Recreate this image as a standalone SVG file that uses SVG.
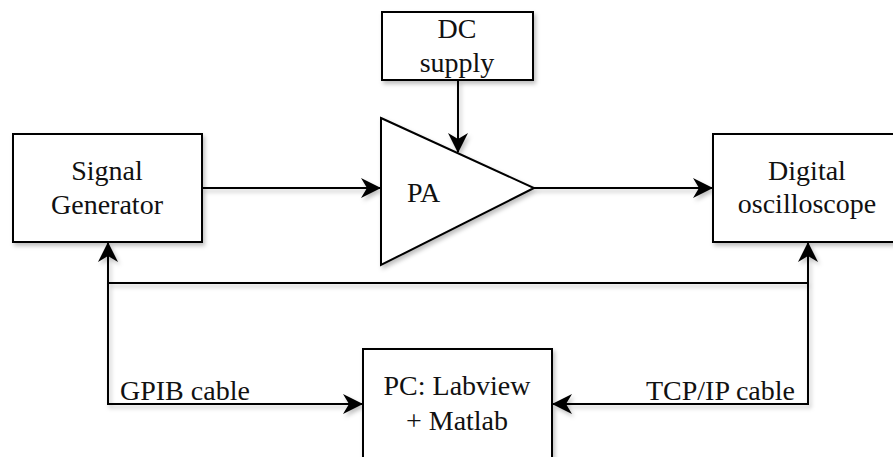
<svg xmlns="http://www.w3.org/2000/svg" width="893" height="457" viewBox="0 0 893 457">
<defs>
<filter id="sh" x="-10%" y="-10%" width="130%" height="130%">
<feDropShadow dx="2" dy="3" stdDeviation="2" flood-color="#000" flood-opacity="0.25"/>
</filter>
<marker id="ah" viewBox="0 0 20 20" refX="19" refY="10" markerWidth="20" markerHeight="20" markerUnits="userSpaceOnUse" orient="auto">
<path d="M0,0 L20,10 L0,20 L6,10 Z" fill="#000"/>
</marker>
<style>
.box{fill:#fff;stroke:#000;stroke-width:2;}
.ln{fill:none;stroke:#000;stroke-width:2;}
text{font-family:"Liberation Serif","Times New Roman",serif;font-size:28px;fill:#111;}
.c{text-anchor:middle;}
</style>
</defs>
<rect width="893" height="457" fill="#fff"/>
<g id="connectors" filter="url(#sh)">
<line class="ln" x1="202" y1="188" x2="380" y2="188" marker-end="url(#ah)"/>
<line class="ln" x1="458" y1="80" x2="458" y2="152" marker-end="url(#ah)"/>
<line class="ln" x1="534" y1="188" x2="712" y2="188" marker-end="url(#ah)"/>
<line class="ln" x1="108" y1="283" x2="808" y2="283"/>
<polyline class="ln" points="108,404 108,243" marker-end="url(#ah)"/>
<polyline class="ln" points="108,283 108,404 362,404" marker-end="url(#ah)"/>
<polyline class="ln" points="808,404 808,243" marker-end="url(#ah)"/>
<polyline class="ln" points="808,283 808,404 553,404" marker-end="url(#ah)"/>
</g>
<g id="signal-generator">
<rect class="box" filter="url(#sh)" x="13" y="134" width="189" height="108"/>
<text class="c" x="107" y="180">Signal</text>
<text class="c" x="107" y="214">Generator</text>
</g>
<g id="dc-supply">
<rect class="box" filter="url(#sh)" x="382" y="12" width="151" height="68"/>
<text class="c" x="457" y="38">DC</text>
<text class="c" x="457" y="72">supply</text>
</g>
<g id="pa">
<polygon class="box" filter="url(#sh)" points="381,118 534,188 381,265"/>
<text x="407" y="202">PA</text>
</g>
<g id="digital-oscilloscope">
<rect class="box" filter="url(#sh)" x="713" y="134" width="190" height="108"/>
<text class="c" x="807" y="180">Digital</text>
<text class="c" x="807" y="213">oscilloscope</text>
</g>
<g id="pc">
<rect class="box" filter="url(#sh)" x="363" y="349" width="189" height="120"/>
<text class="c" x="457" y="395">PC: Labview</text>
<text class="c" x="457" y="430">+ Matlab</text>
</g>
<g id="labels">
<text x="120" y="400">GPIB cable</text>
<text x="795" y="400" text-anchor="end">TCP/IP cable</text>
</g>
</svg>
